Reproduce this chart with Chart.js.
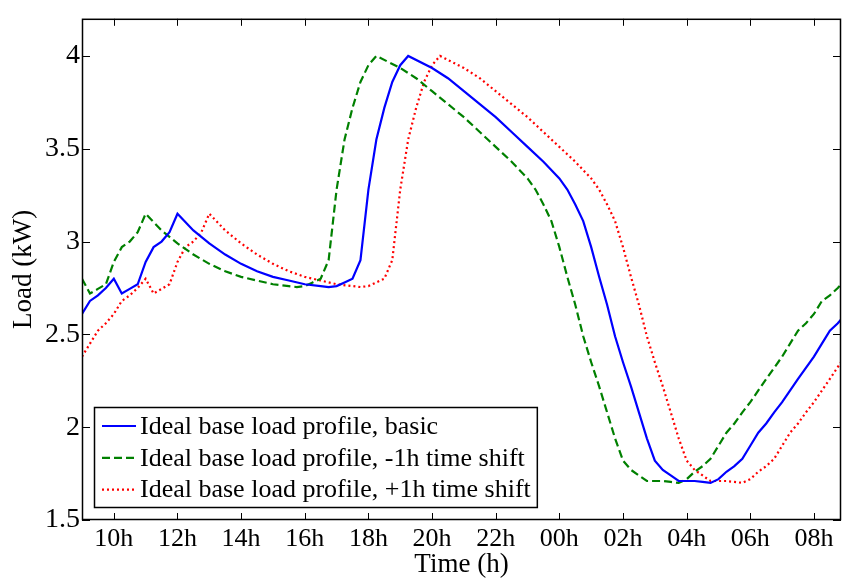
<!DOCTYPE html>
<html>
<head>
<meta charset="utf-8">
<title>Ideal base load profiles</title>
<script src="https://cdn.jsdelivr.net/npm/chart.js@4.4.1/dist/chart.umd.min.js"></script>
<style>
	body { margin: 0; background: #fff; }
	#wrap { width: 842px; height: 583px; }
</style>
</head>
<body>
<div id="wrap"><canvas id="loadChart" width="842" height="583"></canvas></div>
<script>
// x ticks (hours since start of day 1) and their labels
const hourTicks = [10, 12, 14, 16, 18, 20, 22, 24, 26, 28, 30, 32];
const hourLabels = ['10h', '12h', '14h', '16h', '18h', '20h', '22h', '00h', '02h', '04h', '06h', '08h'];
const loadTicks = [1.5, 2, 2.5, 3, 3.5, 4];

// [hour, load kW]
const basicLoad = [
	[9, 2.61], [9.25, 2.68], [9.5, 2.71], [9.75, 2.75], [10, 2.80], [10.25, 2.72], [10.5, 2.745], [10.75, 2.77],
	[11, 2.89], [11.25, 2.97], [11.5, 3.00], [11.75, 3.05], [12, 3.15], [12.5, 3.06], [13, 2.99], [13.5, 2.93],
	[14, 2.88], [14.5, 2.84], [15, 2.81], [15.5, 2.79], [16, 2.77], [16.5, 2.76], [16.75, 2.755], [17, 2.76],
	[17.25, 2.78], [17.5, 2.80], [17.75, 2.90], [18, 3.28], [18.25, 3.55], [18.5, 3.72], [18.75, 3.86], [19, 3.95],
	[19.25, 4.00], [20, 3.935], [20.5, 3.88], [21, 3.81], [21.5, 3.74], [22, 3.67], [22.5, 3.59], [23, 3.51],
	[23.5, 3.43], [24, 3.34], [24.25, 3.28], [24.5, 3.20], [24.75, 3.11], [25, 2.97], [25.25, 2.81], [25.5, 2.66],
	[25.75, 2.49], [26, 2.35], [26.25, 2.22], [26.5, 2.08], [26.75, 1.94], [27, 1.82], [27.25, 1.77], [27.5, 1.74],
	[27.75, 1.71], [28, 1.71], [28.25, 1.71], [28.5, 1.705], [28.75, 1.70], [29, 1.72], [29.25, 1.76], [29.5, 1.79],
	[29.75, 1.83], [30, 1.90], [30.25, 1.97], [30.5, 2.02], [30.75, 2.08], [31, 2.135], [31.5, 2.26], [32, 2.38],
	[32.25, 2.45], [32.5, 2.52], [32.75, 2.56], [32.85, 2.58]
];
const earlyLoad = [
	[9, 2.80], [9.25, 2.72], [9.5, 2.745], [9.75, 2.77], [10, 2.89], [10.25, 2.97], [10.5, 3.00], [10.75, 3.05],
	[11, 3.15], [11.5, 3.06], [12, 2.99], [12.5, 2.93], [13, 2.88], [13.5, 2.84], [14, 2.81], [14.5, 2.79],
	[15, 2.77], [15.5, 2.76], [15.75, 2.755], [16, 2.76], [16.25, 2.78], [16.5, 2.80], [16.75, 2.90], [17, 3.28],
	[17.25, 3.55], [17.5, 3.72], [17.75, 3.86], [18, 3.95], [18.25, 4.00], [19, 3.935], [19.5, 3.88], [20, 3.81],
	[20.5, 3.74], [21, 3.67], [21.5, 3.59], [22, 3.51], [22.5, 3.43], [23, 3.34], [23.25, 3.28], [23.5, 3.20],
	[23.75, 3.11], [24, 2.97], [24.25, 2.81], [24.5, 2.66], [24.75, 2.49], [25, 2.35], [25.25, 2.22], [25.5, 2.08],
	[25.75, 1.94], [26, 1.82], [26.25, 1.77], [26.5, 1.74], [26.75, 1.71], [27, 1.71], [27.25, 1.71], [27.5, 1.705],
	[27.75, 1.70], [28, 1.72], [28.25, 1.76], [28.5, 1.79], [28.75, 1.83], [29, 1.90], [29.25, 1.97], [29.5, 2.02],
	[29.75, 2.08], [30, 2.135], [30.5, 2.26], [31, 2.38], [31.25, 2.45], [31.5, 2.52], [31.75, 2.56], [31.85, 2.58],
	[32, 2.61], [32.25, 2.68], [32.5, 2.71], [32.75, 2.75], [32.85, 2.77]
];
const lateLoad = [
	[9, 2.38], [9.25, 2.45], [9.5, 2.52], [9.75, 2.56], [9.85, 2.58], [10, 2.61], [10.25, 2.68], [10.5, 2.71],
	[10.75, 2.75], [11, 2.80], [11.25, 2.72], [11.5, 2.745], [11.75, 2.77], [12, 2.89], [12.25, 2.97], [12.5, 3.00],
	[12.75, 3.05], [13, 3.15], [13.5, 3.06], [14, 2.99], [14.5, 2.93], [15, 2.88], [15.5, 2.84], [16, 2.81],
	[16.5, 2.79], [17, 2.77], [17.5, 2.76], [17.75, 2.755], [18, 2.76], [18.25, 2.78], [18.5, 2.80], [18.75, 2.90],
	[19, 3.28], [19.25, 3.55], [19.5, 3.72], [19.75, 3.86], [20, 3.95], [20.25, 4.00], [21, 3.935], [21.5, 3.88],
	[22, 3.81], [22.5, 3.74], [23, 3.67], [23.5, 3.59], [24, 3.51], [24.5, 3.43], [25, 3.34], [25.25, 3.28],
	[25.5, 3.20], [25.75, 3.11], [26, 2.97], [26.25, 2.81], [26.5, 2.66], [26.75, 2.49], [27, 2.35], [27.25, 2.22],
	[27.5, 2.08], [27.75, 1.94], [28, 1.82], [28.25, 1.77], [28.5, 1.74], [28.75, 1.71], [29, 1.71], [29.25, 1.71],
	[29.5, 1.705], [29.75, 1.70], [30, 1.72], [30.25, 1.76], [30.5, 1.79], [30.75, 1.83], [31, 1.90], [31.25, 1.97],
	[31.5, 2.02], [31.75, 2.08], [32, 2.135], [32.5, 2.26], [32.85, 2.35]
];

const serif = '"Liberation Serif", "Times New Roman", serif';

function toPoints(pairs) {
	return pairs.map(p => ({x: p[0], y: p[1]}));
}

// MATLAB style box: frame plus ticks pointing inwards on all four sides
const boxAxes = {
	id: 'boxAxes',
	afterDatasetsDraw(chart) {
		const ctx = chart.ctx;
		const a = chart.chartArea;
		const xs = chart.scales.x, ys = chart.scales.y;
		ctx.save();
		ctx.strokeStyle = '#000';
		ctx.lineWidth = 1;
		ctx.setLineDash([]);
		ctx.beginPath();
		xs.ticks.forEach(t => {
			const px = Math.round(xs.getPixelForValue(t.value)) + 0.5;
			ctx.moveTo(px, a.bottom); ctx.lineTo(px, a.bottom - 7);
			ctx.moveTo(px, a.top); ctx.lineTo(px, a.top + 7);
		});
		ys.ticks.forEach(t => {
			const py = Math.round(ys.getPixelForValue(t.value)) + 0.5;
			ctx.moveTo(a.left, py); ctx.lineTo(a.left + 8, py);
			ctx.moveTo(a.right, py); ctx.lineTo(a.right - 8, py);
		});
		ctx.stroke();
		ctx.lineWidth = 1.5;
		ctx.strokeRect(a.left + 0.5, a.top + 0.5, a.right - a.left - 1, a.bottom - a.top - 1);
		ctx.restore();
	}
};

// legend drawn inside the plot, bottom left
const boxLegend = {
	id: 'boxLegend',
	afterDraw(chart) {
		const ctx = chart.ctx;
		const a = chart.chartArea;
		const sets = chart.data.datasets;
		ctx.save();
		ctx.font = '26px ' + serif;
		const textW = Math.max(...sets.map(d => ctx.measureText(d.label).width));
		const boxX = a.left + 12, boxY = 407;
		const boxW = 46 + textW + 6, boxH = 100;
		ctx.fillStyle = '#fff';
		ctx.fillRect(boxX, boxY, boxW, boxH);
		ctx.strokeStyle = '#000';
		ctx.lineWidth = 1.5;
		ctx.strokeRect(boxX + 0.5, boxY + 0.5, boxW, boxH);
		sets.forEach((d, i) => {
			const y = boxY + 19 + i * 31.8;
			ctx.beginPath();
			ctx.setLineDash(d.borderDash || []);
			ctx.strokeStyle = d.borderColor;
			ctx.lineWidth = d.borderWidth;
			ctx.moveTo(boxX + 8, y);
			ctx.lineTo(boxX + 42, y);
			ctx.stroke();
			ctx.fillStyle = '#000';
			ctx.textBaseline = 'middle';
			ctx.fillText(d.label, boxX + 46, y + 1);
		});
		ctx.restore();
	}
};

const ctx = document.getElementById('loadChart').getContext('2d');
const loadChart = new Chart(ctx, {
	type: 'line',
	data: {
		datasets: [{
			label: 'Ideal base load profile, basic',
			data: toPoints(basicLoad),
			borderColor: '#0000ff',
			borderWidth: 2.2
		}, {
			label: 'Ideal base load profile, -1h time shift',
			data: toPoints(earlyLoad),
			borderColor: '#008000',
			borderWidth: 2.2,
			borderDash: [8, 4]
		}, {
			label: 'Ideal base load profile, +1h time shift',
			data: toPoints(lateLoad),
			borderColor: '#ff0000',
			borderWidth: 2.2,
			borderDash: [2, 3]
		}]
	},
	options: {
		responsive: false,
		animation: false,
		devicePixelRatio: 1,
		layout: { padding: { top: 9, right: 1, left: 0, bottom: 0 } },
		elements: {
			point: { radius: 0 },
			line: { tension: 0, fill: false }
		},
		plugins: {
			legend: { display: false },
			tooltip: { enabled: false }
		},
		scales: {
			x: {
				type: 'linear',
				min: 9,
				max: 32.85,
				grid: { display: false, drawTicks: false },
				border: { display: false },
				afterBuildTicks: s => { s.ticks = hourTicks.map(v => ({value: v})); },
				afterFit: s => { s.height = 63; },
				ticks: {
					color: '#000',
					padding: 4,
					maxRotation: 0,
					font: { family: serif, size: 26 },
					callback: (v, i) => hourLabels[i]
				},
				title: {
					display: true,
					text: 'Time (h)',
					color: '#000',
					font: { family: serif, size: 27 },
					padding: { top: 0, bottom: 2 }
				}
			},
			y: {
				min: 1.5,
				max: 4.2,
				grid: { display: false, drawTicks: false },
				border: { display: false },
				afterBuildTicks: s => { s.ticks = loadTicks.map(v => ({value: v})); },
				afterFit: s => { s.width = 82; },
				ticks: {
					color: '#000',
					padding: 2,
					font: { family: serif, size: 28 },
					callback: v => String(v)
				},
				title: {
					display: true,
					text: 'Load (kW)',
					color: '#000',
					font: { family: serif, size: 27 },
					padding: { top: 8, bottom: 0 }
				}
			}
		}
	},
	plugins: [boxAxes, boxLegend]
});
</script>
</body>
</html>
